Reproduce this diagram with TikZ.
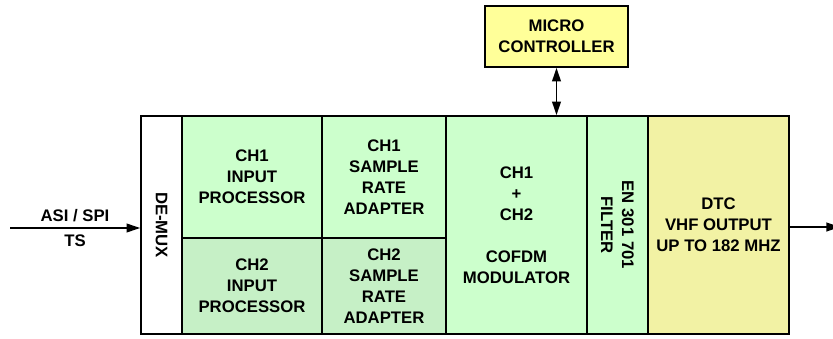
\documentclass[tikz,border=0pt]{standalone}
\usepackage{fontspec}
\setmainfont{Liberation Sans}
\usetikzlibrary{arrows.meta, positioning, calc}
\definecolor{ChOneGreen}{HTML}{CCFFCC}
\definecolor{ChTwoGreen}{HTML}{C6F0C6}
\definecolor{DtcYellow}{HTML}{F2F2A4}
\definecolor{McuYellow}{HTML}{FFFF99}

\begin{document}
\begin{tikzpicture}[
    box/.style={draw, line width=1.25pt, inner sep=0pt, align=center,
                font=\fontsize{11.9}{15}\selectfont\bfseries},
    lbl/.style={inner sep=1pt, align=center, font=\fontsize{11.9}{15}\selectfont\bfseries},
    arrow/.style={-{Triangle[length=3.4mm, width=2.2mm]}, line width=1.1pt},
    dblarrow/.style={{Triangle[length=3.4mm, width=2.2mm]}-{Triangle[length=3.4mm, width=2.2mm]}, line width=1.1pt}
  ]
    \useasboundingbox (0,0) rectangle (20.825,8.45);

    % main chain
    \node[box, fill=white, minimum width=1.025cm, minimum height=5.45cm] (demux) at (4.0375,2.825) {};
    \node[lbl, rotate=-90] (demuxtext) at (demux.center) {DE-MUX};
    \node[box, fill=ChOneGreen, minimum width=3.5cm, minimum height=3.05cm] (inone) at (6.3,4.025) {CH1\\INPUT\\PROCESSOR};
    \node[box, fill=ChTwoGreen, minimum width=3.5cm, minimum height=2.4cm] (intwo) at (6.3,1.3) {CH2\\INPUT\\PROCESSOR};
    \node[box, fill=ChOneGreen, minimum width=3.1cm, minimum height=3.05cm] (sraone) at (9.6,4.025) {CH1\\SAMPLE\\RATE\\ADAPTER};
    \node[box, fill=ChTwoGreen, minimum width=3.1cm, minimum height=2.4cm] (sratwo) at (9.6,1.3) {CH2\\SAMPLE\\RATE\\ADAPTER};
    \node[box, fill=ChOneGreen, minimum width=3.525cm, minimum height=5.45cm] (cofdm) at (12.9125,2.825) {CH1\\+\\CH2\\[15pt]COFDM\\MODULATOR};
    \node[box, fill=ChOneGreen, minimum width=1.525cm, minimum height=5.45cm] (filter) at (15.4375,2.825) {};
    \node[lbl, rotate=-90] (filtertext) at (filter.center) {EN 301 701\\FILTER};
    \node[box, fill=DtcYellow, minimum width=3.525cm, minimum height=5.45cm] (dtc) at (17.9625,2.825) {DTC\\VHF OUTPUT\\UP TO 182 MHZ};

    % controller
    \node[box, fill=McuYellow, minimum width=3.575cm, minimum height=1.525cm] (mcu) at (13.9125,7.5375) {MICRO\\CONTROLLER};

    % signal in and out
    \coordinate (tsin) at (0.25,2.75);
    \coordinate (rfout) at (21.0,2.775);
    \draw[arrow] (tsin) -- (demux.west |- tsin);
    \node[lbl] (asilabel) at (1.875,3.06) {ASI / SPI};
    \node[lbl] (tslabel) at (1.875,2.42) {TS};
    \draw[arrow] (dtc.east |- rfout) -- (rfout);
    \draw[dblarrow] (mcu.south) -- (mcu.south |- cofdm.north);
  \end{tikzpicture}
\end{document}
